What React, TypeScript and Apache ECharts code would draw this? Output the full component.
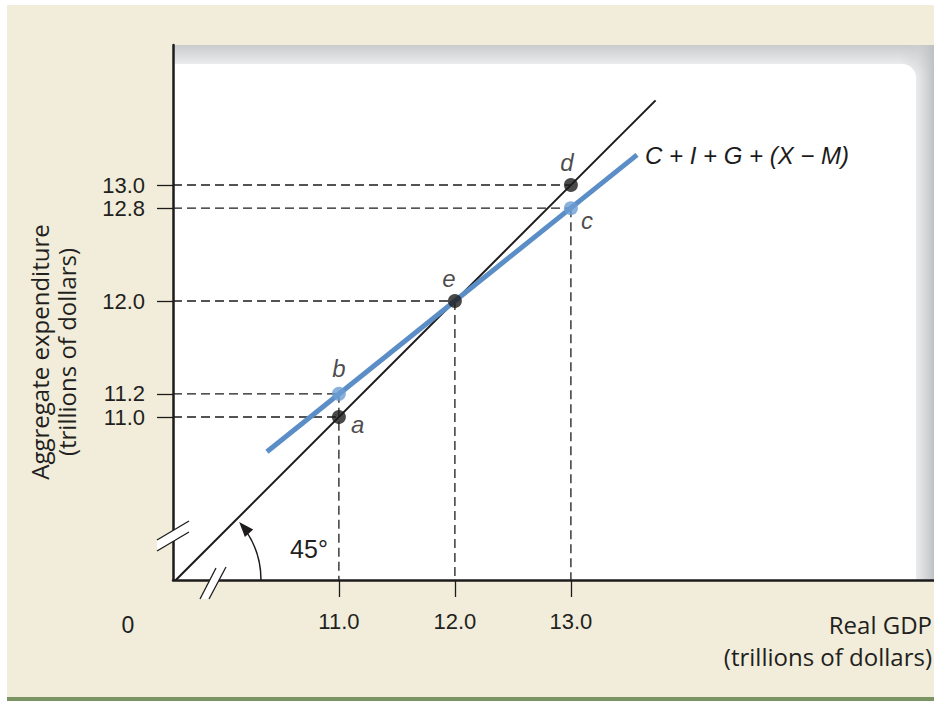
import React, { useEffect, useRef } from "react";
import * as echarts from "echarts";

// ---- data ----
const yTickValues = [11, 11.2, 12, 12.8, 13];
const xTickValues = [11, 12, 13];
const blackNames = ["a", "e", "d"];
const blackX = [11, 12, 13];
const blackY = [11, 12, 13];
const blueNames = ["b", "c"];
const blueX = [11, 13];
const blueY = [11.2, 12.8];
const line45X = [9.59, 13.73];
const line45Y = [9.59, 13.73];
const aeX = [10.38, 13.57];
const aeY = [10.7, 13.26];
const aeName = "C + I + G + (X − M)";
const yTitle = ["Aggregate expenditure", "(trillions of dollars)"];
const xTitle = ["Real GDP", "(trillions of dollars)"];

const X_MIN = 9.57;
const X_MAX = 16.13;
const Y_MIN = 9.595;
const Y_MAX = 14.207;

const FONT = "Open Sans";
const NUMFONT = "Liberation Sans";
const BLACK = "#1d1b1c";
const BLUE = "#5b8ec6";
const BLUE_PT = "#6b9dd2";

const labelPos: Record<string, any> = {
  a: { position: "right", offset: [0, 7] },
  b: { position: "top", distance: 6 },
  e: { position: "top", offset: [-6, 0], distance: 4 },
  d: { position: "top", offset: [-4, 0], distance: 4 },
  c: { position: "right", offset: [-2, 12] },
};

export default function App() {
  const ref = useRef<HTMLDivElement>(null);
  useEffect(() => {
    if (!ref.current) return;
    const chart = echarts.init(ref.current, null, { renderer: "svg" });

    const allPts = [
      ...blackNames.map((n, i) => ({ n, x: blackX[i], y: blackY[i] })),
      ...blueNames.map((n, i) => ({ n, x: blueX[i], y: blueY[i] })),
    ];
    const guideSeries: any[] = [];
    allPts.forEach((p) => {
      guideSeries.push({
        type: "line",
        data: [
          [X_MIN, p.y],
          [p.x, p.y],
        ],
        symbol: "none",
        silent: true,
        z: 2,
        lineStyle: { color: BLACK, width: 1.3, type: [9, 5] },
      });
    });
    const vert: Record<number, number> = {};
    allPts.forEach((p) => {
      if (p.n === "d") return;
      vert[p.x] = Math.max(vert[p.x] ?? -Infinity, p.y);
    });
    Object.keys(vert).forEach((k) => {
      const xv = Number(k);
      guideSeries.push({
        type: "line",
        data: [
          [xv, vert[xv]],
          [xv, Y_MIN],
        ],
        symbol: "none",
        silent: true,
        z: 2,
        lineStyle: { color: BLACK, width: 1.3, type: [9, 5] },
      });
    });

    const ptLabel = (n: string) => ({
      show: true,
      formatter: n,
      fontFamily: NUMFONT,
      fontStyle: "italic",
      fontSize: 24,
      color: BLACK,
      ...labelPos[n],
    });

    const arcR = 88;
    const cx = 173;
    const cy = 580;
    const tipAng = 0.72;
    const tip = [cx + arcR * Math.cos(tipAng), cy - arcR * Math.sin(tipAng)];
    const dir = [-Math.sin(tipAng), -Math.cos(tipAng)];
    const nrm = [dir[1], -dir[0]];
    const aL = 15;
    const aW = 5.5;
    const base = [tip[0] - dir[0] * aL, tip[1] - dir[1] * aL];

    const option: any = {
      animation: false,
      grid: { left: 173, top: 45, right: 0, bottom: 121, containLabel: false },
      xAxis: {
        type: "value",
        min: X_MIN,
        max: X_MAX,
        splitLine: { show: false },
        axisLine: { show: true, onZero: false, lineStyle: { color: BLACK, width: 2.5 } },
        axisTick: {
          show: true,
          customValues: xTickValues,
          length: 17,
          lineStyle: { color: BLACK, width: 1.3 },
        },
        axisLabel: {
          show: true,
          customValues: xTickValues,
          formatter: (v: number) => v.toFixed(1),
          margin: 30,
          fontFamily: NUMFONT,
          fontSize: 22,
          color: "#231f20",
        },
        z: 10,
      },
      yAxis: {
        type: "value",
        min: Y_MIN,
        max: Y_MAX,
        splitLine: { show: false },
        axisLine: { show: true, onZero: false, lineStyle: { color: BLACK, width: 2.5 } },
        axisTick: {
          show: true,
          customValues: yTickValues,
          length: 16,
          lineStyle: { color: BLACK, width: 1.3 },
        },
        axisLabel: {
          show: true,
          customValues: yTickValues,
          formatter: (v: number) => v.toFixed(1),
          margin: 28,
          fontFamily: NUMFONT,
          fontSize: 22,
          lineHeight: 19,
          color: "#231f20",
        },
        z: 10,
      },
      graphic: [
        { type: "rect", z: -100, shape: { x: 7, y: 5, width: 927, height: 696 }, style: { fill: "#f1edda" } },
        { type: "rect", z: -99, shape: { x: 7, y: 697, width: 927, height: 4 }, style: { fill: "#7b9464" } },
        {
          type: "rect",
          z: -98,
          shape: { x: 173, y: 45, width: 761, height: 535 },
          style: {
            fill: new echarts.graphic.LinearGradient(0, 0, 0, 1, [
              { offset: 0, color: "#c9cbcd" },
              { offset: 0.045, color: "#f4f4f5" },
              { offset: 0.06, color: "#ffffff" },
              { offset: 1, color: "#ffffff" },
            ]),
          },
        },
        {
          type: "rect",
          z: -97,
          shape: { x: 900, y: 45, width: 34, height: 535 },
          style: {
            fill: new echarts.graphic.LinearGradient(0, 0, 1, 0, [
              { offset: 0, color: "rgba(200,202,204,0)" },
              { offset: 0.5, color: "rgba(205,207,209,0.45)" },
              { offset: 1, color: "rgba(190,192,194,1)" },
            ]),
          },
        },
        {
          type: "rect",
          z: -96,
          shape: { x: 173, y: 64, width: 743, height: 516, r: [0, 14, 0, 0] },
          style: { fill: "#ffffff" },
        },
        // y-axis break
        {
          type: "polygon",
          z: 50,
          shape: { points: [[157, 540], [189, 521], [189, 532], [157, 551]] },
          style: { fill: "#ffffff", stroke: "none" },
        },
        { type: "line", z: 51, shape: { x1: 157, y1: 540, x2: 189, y2: 521 }, style: { stroke: BLACK, lineWidth: 1.3 } },
        { type: "line", z: 51, shape: { x1: 157, y1: 551, x2: 189, y2: 532 }, style: { stroke: BLACK, lineWidth: 1.3 } },
        // x-axis break
        {
          type: "polygon",
          z: 50,
          shape: { points: [[200, 599], [216, 568], [226, 567], [209, 599]] },
          style: { fill: "#ffffff", stroke: "none" },
        },
        { type: "line", z: 51, shape: { x1: 200, y1: 599, x2: 216, y2: 568 }, style: { stroke: BLACK, lineWidth: 1.3 } },
        { type: "line", z: 51, shape: { x1: 209, y1: 599, x2: 226, y2: 567 }, style: { stroke: BLACK, lineWidth: 1.3 } },
        // 45 degree arc with arrow
        {
          type: "arc",
          z: 40,
          shape: { cx, cy, r: arcR, startAngle: -tipAng + 0.12, endAngle: 0, clockwise: true },
          style: { stroke: BLACK, lineWidth: 1.5, fill: "none" },
        },
        {
          type: "polygon",
          z: 41,
          shape: {
            points: [
              tip,
              [base[0] + nrm[0] * aW, base[1] + nrm[1] * aW],
              [base[0] - nrm[0] * aW, base[1] - nrm[1] * aW],
            ],
          },
          style: { fill: BLACK },
        },
        {
          type: "text",
          z: 41,
          x: 309,
          y: 549,
          style: { text: "45°", fontFamily: NUMFONT, fontSize: 25, fill: "#231f20", align: "center", verticalAlign: "middle" },
        },
        {
          type: "text",
          z: 41,
          x: 128,
          y: 625,
          style: { text: "0", fontFamily: NUMFONT, fontSize: 23, fill: "#231f20", align: "center", verticalAlign: "middle" },
        },
        {
          type: "text",
          z: 41,
          x: 53,
          y: 352,
          rotation: Math.PI / 2,
          style: {
            text: yTitle.join("\n"),
            fontFamily: FONT,
            fontSize: 24,
            lineHeight: 27,
            fill: "#231f20",
            align: "center",
            verticalAlign: "middle",
          },
        },
        {
          type: "text",
          z: 41,
          x: 932,
          y: 640,
          style: {
            text: xTitle.join("\n"),
            fontFamily: FONT,
            fontSize: 24,
            lineHeight: 32,
            fill: "#231f20",
            align: "right",
            verticalAlign: "middle",
          },
        },
      ],
      series: [
        ...guideSeries,
        {
          type: "line",
          name: "45°",
          data: line45X.map((x, i) => [x, line45Y[i]]),
          symbol: "none",
          z: 3,
          lineStyle: { color: BLACK, width: 2 },
        },
        {
          type: "line",
          name: aeName,
          data: aeX.map((x, i) => [x, aeY[i]]),
          symbol: "none",
          z: 4,
          lineStyle: { color: BLUE, width: 5 },
          endLabel: {
            show: true,
            distance: 8,
            offset: [0, 1],
            formatter: aeName,
            fontFamily: NUMFONT,
            fontStyle: "italic",
            fontSize: 24,
            color: BLACK,
          },
        },
        {
          type: "scatter",
          z: 6,
          symbolSize: 14,
          itemStyle: { color: BLACK },
          data: blackNames.map((n, i) => ({ value: [blackX[i], blackY[i]], label: ptLabel(n) })),
        },
        {
          type: "scatter",
          z: 6,
          symbolSize: 14,
          itemStyle: { color: BLUE_PT },
          data: blueNames.map((n, i) => ({ value: [blueX[i], blueY[i]], label: ptLabel(n) })),
        },
      ],
    };
    chart.setOption(option);
    return () => chart.dispose();
  }, []);
  return (
    <div
      ref={ref}
      style={{ position: "absolute", left: 0, top: 0, width: 934, height: 701, background: "#ffffff" }}
    />
  );
}
